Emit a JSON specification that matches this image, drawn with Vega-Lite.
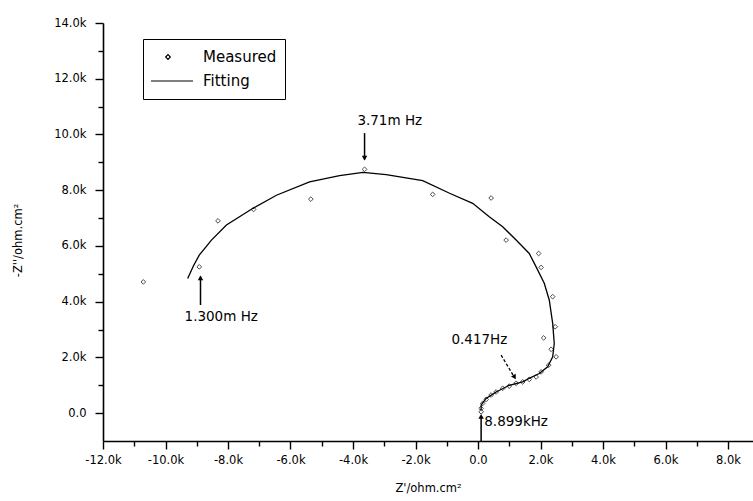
{
  "$schema": "https://vega.github.io/schema/vega-lite/v6.json",
  "width": 650,
  "height": 418,
  "autosize": {"type": "none"},
  "padding": {"left": 103, "top": 23, "right": 0, "bottom": 60},
  "background": "white",
  "config": {
    "view": {"stroke": null},
    "font": "DejaVu Sans",
    "axis": {
      "grid": false,
      "domainColor": "black",
      "domainWidth": 1.6,
      "tickColor": "black",
      "tickWidth": 1.4,
      "labelColor": "black",
      "labelFont": "DejaVu Sans",
      "labelFontSize": 11.5,
      "titleColor": "black",
      "titleFont": "DejaVu Sans",
      "titleFontSize": 11.5,
      "titleFontWeight": "normal",
      "labelFlush": false,
      "labelOverlap": false
    }
  },
  "datasets": {
    "fit": [
      {"i": 1, "x": -9290, "y": 4830},
      {"i": 2, "x": -9100, "y": 5300},
      {"i": 3, "x": -8920, "y": 5670},
      {"i": 4, "x": -8530, "y": 6210},
      {"i": 5, "x": -8050, "y": 6750},
      {"i": 6, "x": -7200, "y": 7350},
      {"i": 7, "x": -6450, "y": 7820},
      {"i": 8, "x": -5390, "y": 8300},
      {"i": 9, "x": -4430, "y": 8520},
      {"i": 10, "x": -3680, "y": 8640},
      {"i": 11, "x": -2940, "y": 8560},
      {"i": 12, "x": -1770, "y": 8340},
      {"i": 13, "x": -910, "y": 7890},
      {"i": 14, "x": -170, "y": 7530},
      {"i": 15, "x": 360, "y": 7050},
      {"i": 16, "x": 790, "y": 6690},
      {"i": 17, "x": 1220, "y": 6210},
      {"i": 18, "x": 1640, "y": 5730},
      {"i": 19, "x": 1860, "y": 5250},
      {"i": 20, "x": 2120, "y": 4660},
      {"i": 21, "x": 2280, "y": 4060},
      {"i": 22, "x": 2390, "y": 3220},
      {"i": 23, "x": 2440, "y": 2500},
      {"i": 24, "x": 2390, "y": 2020},
      {"i": 25, "x": 2230, "y": 1660},
      {"i": 26, "x": 1960, "y": 1420},
      {"i": 27, "x": 1640, "y": 1250},
      {"i": 28, "x": 1430, "y": 1120},
      {"i": 29, "x": 1000, "y": 1000},
      {"i": 30, "x": 580, "y": 760},
      {"i": 31, "x": 260, "y": 530},
      {"i": 32, "x": 100, "y": 290},
      {"i": 33, "x": 100, "y": 110}
    ],
    "measured": [
      {"x": -10710, "y": 4710},
      {"x": -8920, "y": 5250},
      {"x": -8320, "y": 6900},
      {"x": -7180, "y": 7310},
      {"x": -5350, "y": 7680},
      {"x": -3630, "y": 8750},
      {"x": -1450, "y": 7850},
      {"x": 420, "y": 7720},
      {"x": 900, "y": 6210},
      {"x": 1940, "y": 5730},
      {"x": 2020, "y": 5230},
      {"x": 2390, "y": 4180},
      {"x": 2470, "y": 3100},
      {"x": 2100, "y": 2700},
      {"x": 2340, "y": 2290},
      {"x": 2500, "y": 2020},
      {"x": 2260, "y": 1720},
      {"x": 2020, "y": 1480},
      {"x": 1860, "y": 1300},
      {"x": 1640, "y": 1210},
      {"x": 1430, "y": 1120},
      {"x": 1220, "y": 1070},
      {"x": 1000, "y": 970},
      {"x": 790, "y": 890},
      {"x": 580, "y": 760},
      {"x": 420, "y": 650},
      {"x": 260, "y": 490},
      {"x": 150, "y": 350},
      {"x": 100, "y": 170},
      {"x": 100, "y": 50}
    ],
    "arrows": [
      {"x": -3630, "y": 10050, "x2": -3630, "y2": 9100},
      {"x": -8880, "y": 3880, "x2": -8880, "y2": 4900},
      {"x": 100, "y": -1000, "x2": 100, "y2": -100}
    ],
    "dashedArrow": [
      {"x": 740, "y": 2080, "x2": 1180, "y2": 1260}
    ],
    "heads": [
      {"x": -3630, "y": 9150, "dir": "down"},
      {"x": -8880, "y": 4850, "dir": "up"},
      {"x": 100, "y": -120, "dir": "up"}
    ],
    "diagHead": [
      {"x": 1170, "y": 1290}
    ],
    "labels": [
      {"label": "3.71m Hz", "x": -3860, "y": 10480},
      {"label": "1.300m Hz", "x": -9390, "y": 3450},
      {"label": "0.417Hz", "x": -850, "y": 2620},
      {"label": "8.899kHz", "x": 200, "y": -310}
    ]
  },
  "layer": [
    {
      "data": {"name": "fit"},
      "mark": {"type": "line", "strokeWidth": 1.3},
      "encoding": {
        "x": {
          "field": "x", "type": "quantitative",
          "scale": {"domain": [-12000, 8800], "nice": false, "zero": false},
          "axis": {
            "orient": "bottom",
            "values": [-12000, -10000, -8000, -6000, -4000, -2000, 0, 2000, 4000, 6000, 8000],
            "labelExpr": "datum.value === 0 ? '0.0' : replace(format(datum.value/1000, '.1f'), '\u2212', '-') + 'k'",
            "title": "Z'/ohm.cm²",
            "tickSize": 8,
            "labelPadding": 5,
            "titlePadding": 17
          }
        },
        "y": {
          "field": "y", "type": "quantitative",
          "scale": {"domain": [-1000, 14000], "nice": false, "zero": false},
          "axis": {
            "orient": "left",
            "values": [0, 2000, 4000, 6000, 8000, 10000, 12000, 14000],
            "labelExpr": "datum.value === 0 ? '0.0' : replace(format(datum.value/1000, '.1f'), '\u2212', '-') + 'k'",
            "title": "-Z''/ohm.cm²",
            "tickSize": 8,
            "labelPadding": 9,
            "titleX": -80,
            "titleY": 217
          }
        },
        "order": {"field": "i"},
        "color": {
          "datum": "Fitting", "type": "nominal",
          "scale": {"domain": ["Measured", "Fitting"], "range": ["black", "black"]},
          "legend": {
            "title": null,
            "orient": "none",
            "legendX": 40,
            "legendY": 16,
            "strokeColor": "black",
            "padding": 8,
            "clipHeight": 20,
            "rowPadding": 4,
            "labelFont": "DejaVu Sans",
            "labelFontSize": 15,
            "labelColor": "black",
            "encode": {
              "symbols": {
                "update": {
                  "x": {"value": 17},
                  "shape": {"signal": "datum.value === 'Fitting' ? 'stroke' : 'diamond'"},
                  "size": {"signal": "datum.value === 'Fitting' ? 2500 : 22"},
                  "stroke": {"value": "black"},
                  "fill": {"value": "transparent"},
                  "strokeWidth": {"value": 1.2}
                }
              },
              "labels": {
                "update": {
                  "x": {"value": 52}
                }
              }
            }
          }
        }
      }
    },
    {
      "data": {"name": "measured"},
      "mark": {"type": "point", "shape": "diamond", "filled": false, "size": 22, "strokeWidth": 1},
      "encoding": {
        "x": {
          "field": "x", "type": "quantitative",
          "axis": {
            "orient": "bottom",
            "values": [-11000, -9000, -7000, -5000, -3000, -1000, 1000, 3000, 5000, 7000],
            "labels": false, "domain": false, "tickSize": 5, "title": null
          }
        },
        "y": {
          "field": "y", "type": "quantitative",
          "axis": {
            "orient": "left",
            "values": [1000, 3000, 5000, 7000, 9000, 11000, 13000],
            "labels": false, "domain": false, "tickSize": 5, "title": null
          }
        },
        "color": {"datum": "Measured", "type": "nominal"}
      }
    },
    {
      "data": {"name": "arrows"},
      "mark": {"type": "rule", "color": "black", "strokeWidth": 1.5},
      "encoding": {
        "x": {"field": "x", "type": "quantitative", "axis": null},
        "y": {"field": "y", "type": "quantitative", "axis": null},
        "x2": {"field": "x2"},
        "y2": {"field": "y2"}
      }
    },
    {
      "data": {"name": "dashedArrow"},
      "mark": {"type": "rule", "color": "black", "strokeWidth": 1.3, "strokeDash": [3, 2]},
      "encoding": {
        "x": {"field": "x", "type": "quantitative", "axis": null},
        "y": {"field": "y", "type": "quantitative", "axis": null},
        "x2": {"field": "x2"},
        "y2": {"field": "y2"}
      }
    },
    {
      "data": {"name": "heads"},
      "mark": {"type": "point", "filled": true, "color": "black", "size": 30, "opacity": 1},
      "encoding": {
        "x": {"field": "x", "type": "quantitative", "axis": null},
        "y": {"field": "y", "type": "quantitative", "axis": null},
        "shape": {
          "field": "dir", "type": "nominal",
          "scale": {"domain": ["up", "down"], "range": ["triangle-up", "triangle-down"]},
          "legend": null
        }
      }
    },
    {
      "data": {"name": "diagHead"},
      "mark": {"type": "point", "shape": "triangle-up", "angle": 149, "filled": true, "color": "black", "size": 30, "opacity": 1},
      "encoding": {
        "x": {"field": "x", "type": "quantitative", "axis": null},
        "y": {"field": "y", "type": "quantitative", "axis": null}
      }
    },
    {
      "data": {"name": "labels"},
      "mark": {"type": "text", "align": "left", "baseline": "middle", "fontSize": 13.5, "font": "DejaVu Sans", "color": "black"},
      "encoding": {
        "x": {"field": "x", "type": "quantitative", "axis": null},
        "y": {"field": "y", "type": "quantitative", "axis": null},
        "text": {"field": "label"}
      }
    }
  ],
  "resolve": {"axis": {"x": "independent", "y": "independent"}}
}
